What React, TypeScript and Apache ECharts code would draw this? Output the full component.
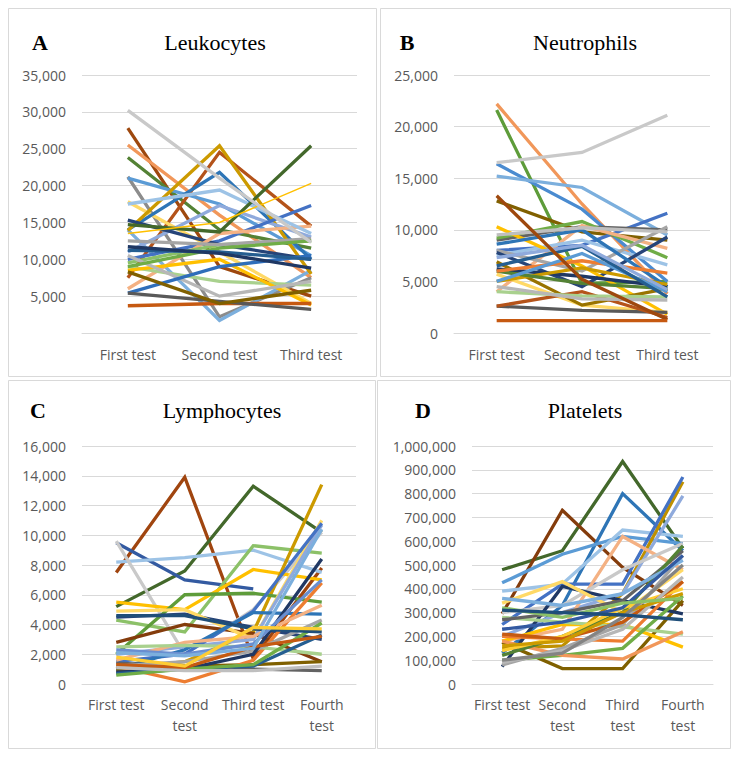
import React, { useEffect, useRef } from "react";
import * as echarts from "echarts";

// ---------- categories ----------
const catsAB = ["First test", "Second test", "Third test"];
const catsC = ["First test", "Second\ntest", "Third test", "Fourth\ntest"];
const catsD = ["First test", "Second\ntest", "Third\ntest", "Fourth\ntest"];

// ---------- A: Leukocytes (per patient: first, second, third) ----------
const leukocytes: number[][] = [
  [27800, 9000, 5000],
  [25500, 16000, 7500],
  [23800, 14000, 11500],
  [7500, 24500, 14500],
  [21200, 2200, 7500],
  [14000, 1700, 8500],
  [17800, 11000, 4000],
  [21000, 17500, 10500],
  [14000, 21800, 10000],
  [13900, 25400, 8000],
  [11000, 17300, 13000],
  [10000, 12500, 17300],
  [15300, 12000, 10000],
  [6000, 13500, 14500],
  [9000, 7000, 6500],
  [8500, 10000, 3800],
  [9500, 12000, 12500],
  [10500, 5000, 7000],
  [5400, 9000, 10500],
  [12500, 12000, 12800],
  [9000, 11500, 12500],
  [11200, 11000, 10000],
  [17500, 19400, 13500],
  [3700, 4000, 4000],
  [5400, 4300, 3200],
  [8300, 4000, 5800],
  [11700, 10800, 8800],
  [14700, 13700, 25400],
  [13500, 15000, 20300],
  [30200, 21000, 12300],
];
const leukocyteColors = [
  "#9E480E", "#F1975A", "#548235", "#B4531A", "#8C8C8C", "#7CAFDD",
  "#FFD966", "#5B9BD5", "#2E75B6", "#CC9A00", "#8FAADC", "#4472C4",
  "#264478", "#F4B183", "#A9D18E", "#FFC000", "#8CC168", "#B7B7B7",
  "#2F6EBA", "#A5A5A5", "#70AD47", "#255E91", "#9DC3E6", "#C65911",
  "#595959", "#806000", "#1F3864", "#43682B", "#FFC000", "#C9C9C9",
];
const leukocyteWidths = [
  3.3, 3.3, 3.3, 3.3, 3.3, 3.3, 3.3, 3.3, 3.3, 3.3, 3.3, 3.3, 3.3, 3.3, 3.3,
  3.3, 3.3, 3.3, 3.3, 3.3, 3.3, 3.3, 3.3, 3.3, 3.3, 3.3, 3.3, 3.3, 1.5, 3.3,
];

// ---------- B: Neutrophils ----------
const neutrophils: number[][] = [
  [22200, 12500, 3800],
  [21600, 4800, 5000],
  [16400, 12000, 5000],
  [15200, 14100, 9500],
  [12800, 9800, 9000],
  [8000, 8500, 11600],
  [9000, 10300, 10000],
  [9200, 10800, 7300],
  [4000, 10400, 8200],
  [7500, 9000, 6600],
  [8000, 6000, 10300],
  [7800, 4500, 9300],
  [10300, 6500, 1800],
  [5700, 2700, 2000],
  [6900, 2700, 4300],
  [2600, 2200, 2000],
  [2600, 4000, 1500],
  [4000, 3600, 3500],
  [8600, 10000, 4500],
  [6200, 5500, 4500],
  [5000, 6300, 4700],
  [6000, 4800, 4300],
  [6000, 7000, 5800],
  [5000, 7700, 4000],
  [9500, 10200, 9800],
  [6500, 8400, 3500],
  [4500, 3300, 3200],
  [7300, 8500, 4200],
  [13300, 5200, 1300],
  [1200, 1200, 1200],
  [16500, 17500, 21100],
];
const neutrophilColors = [
  "#F1975A", "#5E9C3A", "#4A8BD0", "#7CAFDD", "#806000", "#4472C4",
  "#636363", "#70AD47", "#F4B183", "#9DC3E6", "#A5A5A5", "#264478",
  "#FFC000", "#FFD966", "#997300", "#595959", "#B5541A", "#A9D18E",
  "#2E75B6", "#1F3864", "#CC9A00", "#548235", "#ED7D31", "#5B9BD5",
  "#BFBFBF", "#255E91", "#B7B7B7", "#8FAADC", "#9E480E", "#C65911",
  "#C9C9C9",
];

// ---------- C: Lymphocytes ----------
const lymphocytes: (number | null)[][] = [
  [7500, 13900, 1700, 7800],
  [5200, 7600, 13300, 10200],
  [9500, 7000, 6400, null],
  [8200, 8500, 9000, 7500],
  [9600, 2000, 5000, 10200],
  [4300, 3500, 9300, 8800],
  [5500, 5000, 7700, 7000],
  [1000, 1500, 3500, 13400],
  [2000, 6000, 6100, 5500],
  [4500, 4700, 3800, 3000],
  [2800, 4000, 3400, 1500],
  [4900, 5000, 3000, 11000],
  [2000, 2500, 3000, 10700],
  [1500, 2000, 4900, 10800],
  [1000, 2300, 4800, 4700],
  [1400, 1200, 1000, 900],
  [900, 1200, 1300, 1500],
  [1200, 150, 1600, 6800],
  [1600, 2800, 3200, 5300],
  [2500, 2600, 2500, 2000],
  [1200, 1500, 2200, 4300],
  [800, 1000, 2000, 8400],
  [700, 1000, 1200, 3300],
  [600, 1000, 1300, 4100],
  [1300, 1100, 2500, 3200],
  [1100, 900, 900, 1200],
  [4600, 4600, 3700, 3500],
  [2300, 2000, 2700, 7000],
  [2100, 1900, 2400, 10400],
  [1800, 1200, 3800, 3700],
];
const lymphocyteColors = [
  "#A0450F", "#43682B", "#335AA1", "#9DC3E6", "#C9C9C9", "#8CC168",
  "#FFC000", "#CC9A00", "#5E9C3A", "#264478", "#843C0C", "#FFD966",
  "#8FAADC", "#4472C4", "#2E75B6", "#636363", "#7F6000", "#ED7D31",
  "#F4B183", "#A9D18E", "#A5A5A5", "#203864", "#255E91", "#70AD47",
  "#C55A11", "#BFBFBF", "#1F4E79", "#698ED0", "#7CAFDD", "#FFCD33",
];

// ---------- D: Platelets ----------
const platelets: number[][] = [
  [480000, 560000, 935000, 570000],
  [295000, 730000, 490000, 330000],
  [130000, 330000, 800000, 560000],
  [425000, 545000, 620000, 590000],
  [390000, 420000, 647000, 620000],
  [175000, 65000, 65000, 350000],
  [150000, 160000, 380000, 850000],
  [250000, 420000, 420000, 870000],
  [200000, 300000, 380000, 790000],
  [180000, 230000, 620000, 480000],
  [300000, 330000, 480000, 590000],
  [73000, 410000, 350000, 295000],
  [340000, 430000, 300000, 480000],
  [180000, 250000, 250000, 155000],
  [280000, 260000, 240000, 210000],
  [100000, 120000, 150000, 370000],
  [200000, 190000, 180000, 430000],
  [180000, 120000, 105000, 220000],
  [80000, 150000, 250000, 540000],
  [270000, 300000, 350000, 560000],
  [120000, 200000, 300000, 580000],
  [360000, 330000, 380000, 520000],
  [140000, 200000, 320000, 400000],
  [230000, 260000, 320000, 540000],
  [210000, 190000, 260000, 430000],
  [90000, 140000, 230000, 450000],
  [160000, 180000, 300000, 380000],
  [100000, 130000, 280000, 500000],
  [320000, 280000, 340000, 360000],
  [310000, 300000, 290000, 270000],
];
const plateletColors = [
  "#43682B", "#843C0C", "#2E75B6", "#5B9BD5", "#9DC3E6", "#7F6000",
  "#BF9000", "#4472C4", "#8FAADC", "#F4B183", "#C9C9C9", "#203864",
  "#FFD966", "#FFC000", "#A9D18E", "#70AD47", "#ED7D31", "#F1975A",
  "#A5A5A5", "#636363", "#548235", "#7CAFDD", "#FFCD33", "#335AA1",
  "#C55A11", "#B7B7B7", "#CC9A00", "#848484", "#8CC168", "#1F4E79",
];

// ---------- panel texts ----------
const panelLetters = ["A", "B", "C", "D"];
const panelTitles = ["Leukocytes", "Neutrophils", "Lymphocytes", "Platelets"];
const yMax = [35000, 25000, 16000, 1000000];
const yStep = [5000, 5000, 2000, 100000];

const fmt = (v: number) => v.toLocaleString("en-US");
const LABEL_FONT = "'Open Sans', 'Liberation Sans', sans-serif";
const SERIF = "'Liberation Serif', 'Times New Roman', serif";
const GRID_COLOR = "#D9D9D9";
const LINE_WIDTH = 3.3;

export default function App() {
  const ref = useRef<HTMLDivElement>(null);

  useEffect(() => {
    if (!ref.current) return;
    const chart = echarts.init(ref.current, undefined, { renderer: "svg" });

    const grids = [
      { left: 82, top: 75, width: 275, height: 258 },
      { left: 454, top: 75, width: 256, height: 258 },
      { left: 82, top: 446, width: 274, height: 238 },
      { left: 472, top: 446, width: 241, height: 238 },
    ];
    const cats = [catsAB, catsAB, catsC, catsD];
    const labelMargin = [16, 16, 16, 16];
    const xMargin = [11, 11, 10, 10];

    const xAxis = grids.map((_, i) => ({
      type: "category",
      gridIndex: i,
      data: cats[i],
      boundaryGap: true,
      axisLine: { show: true, lineStyle: { color: GRID_COLOR, width: 1 } },
      axisTick: { show: false },
      axisLabel: {
        color: "#595959",
        fontSize: 14,
        fontFamily: LABEL_FONT,
        lineHeight: 21,
        margin: xMargin[i],
        interval: 0,
      },
    }));
    const yAxis = grids.map((_, i) => ({
      type: "value",
      gridIndex: i,
      min: 0,
      max: yMax[i],
      interval: yStep[i],
      axisLine: { show: false },
      axisTick: { show: false },
      splitLine: { lineStyle: { color: GRID_COLOR, width: 1 } },
      axisLabel: {
        color: "#595959",
        fontSize: 14,
        fontFamily: LABEL_FONT,
        margin: labelMargin[i],
        showMinLabel: i !== 0,
        formatter: (v: number) => fmt(v),
      },
    }));

    const series: any[] = [];
    const addPanel = (rows: (number | null)[][], colors: string[], idx: number, widths?: number[]) => {
      rows.forEach((row, k) => {
        series.push({
          type: "line",
          xAxisIndex: idx,
          yAxisIndex: idx,
          data: row,
          symbol: "none",
          silent: true,
          connectNulls: false,
          lineStyle: { color: colors[k % colors.length], width: widths ? widths[k] : LINE_WIDTH, join: "miter" },
          itemStyle: { color: colors[k % colors.length] },
        });
      });
    };
    addPanel(leukocytes, leukocyteColors, 0, leukocyteWidths);
    addPanel(neutrophils, neutrophilColors, 1);
    addPanel(lymphocytes, lymphocyteColors, 2);
    addPanel(platelets, plateletColors, 3);

    const borders = [
      { x: 8.5, y: 8.5, w: 368, h: 368 },
      { x: 380.5, y: 8.5, w: 350, h: 368 },
      { x: 8.5, y: 380.5, w: 367, h: 368 },
      { x: 377.5, y: 380.5, w: 353, h: 368 },
    ];
    const letterPos = [
      [40, 42],
      [407, 42],
      [38, 410],
      [423, 410],
    ];
    const titlePos = [
      [215, 42],
      [585, 42],
      [222, 410],
      [585, 410],
    ];

    const graphic: any[] = [];
    borders.forEach((b) => {
      graphic.push({
        type: "rect",
        silent: true,
        z: -1,
        shape: { x: b.x, y: b.y, width: b.w, height: b.h },
        style: { fill: "#ffffff", stroke: GRID_COLOR, lineWidth: 1 },
      });
    });
    panelLetters.forEach((t, i) => {
      graphic.push({
        type: "text",
        silent: true,
        x: letterPos[i][0],
        y: letterPos[i][1],
        style: {
          text: t,
          fill: "#000000",
          font: `bold 22px ${SERIF}`,
          textAlign: "center",
          textVerticalAlign: "middle",
        },
      });
    });
    panelTitles.forEach((t, i) => {
      graphic.push({
        type: "text",
        silent: true,
        x: titlePos[i][0],
        y: titlePos[i][1],
        style: {
          text: t,
          fill: "#000000",
          font: `22px ${SERIF}`,
          textAlign: "center",
          textVerticalAlign: "middle",
        },
      });
    });

    chart.setOption({
      animation: false,
      backgroundColor: "#ffffff",
      grid: grids.map((g) => ({ ...g, containLabel: false })),
      xAxis,
      yAxis,
      series,
      graphic,
    });

    return () => chart.dispose();
  }, []);

  return (
    <div
      ref={ref}
      style={{ position: "fixed", left: 0, top: 0, width: 741, height: 757, background: "#ffffff" }}
    />
  );
}
